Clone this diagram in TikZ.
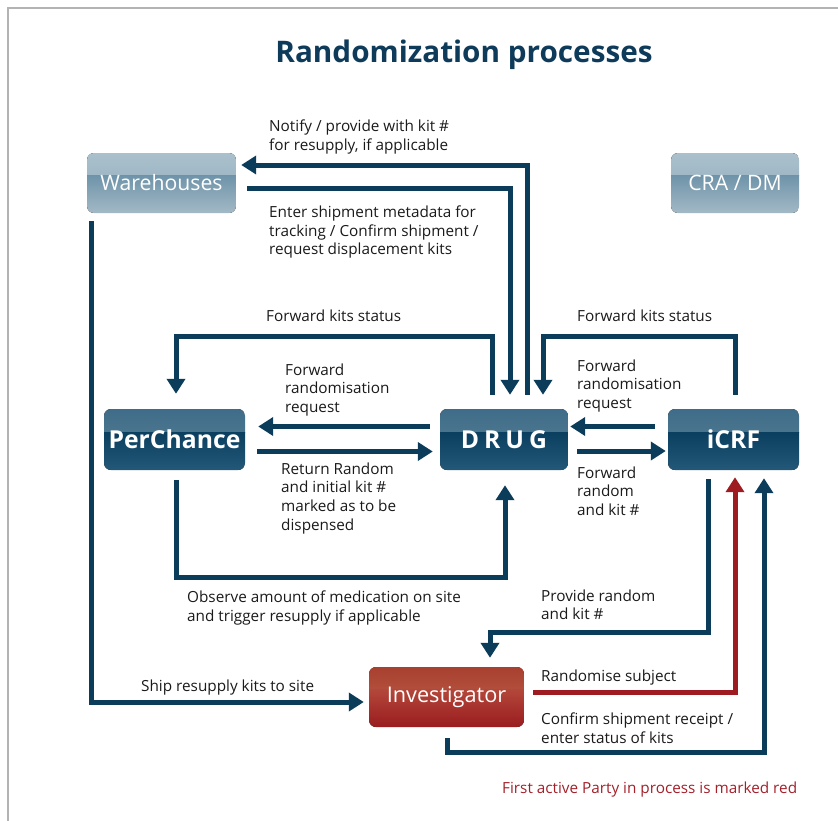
\documentclass[tikz,border=0pt]{standalone}
\usepackage{fontspec}
\setmainfont{Open Sans}
\usetikzlibrary{arrows.meta,calc}
\definecolor{navy}{HTML}{0B3C5A}
\definecolor{titleblue}{HTML}{0E3B5A}
\definecolor{redarr}{HTML}{9E1B22}
\definecolor{redtext}{HTML}{A3202A}
\definecolor{framegray}{HTML}{B3B3B3}
\definecolor{txt}{HTML}{1A1A1A}
\definecolor{dA}{HTML}{3F6C88}
\definecolor{dB}{HTML}{5C8399}
\definecolor{dC}{HTML}{0B3F60}
\definecolor{dD}{HTML}{245878}
\definecolor{lA}{HTML}{AAC0CC}
\definecolor{lB}{HTML}{8FABBD}
\definecolor{lC}{HTML}{6F93A9}
\definecolor{lD}{HTML}{A3B9C6}
\definecolor{rA}{HTML}{A9402F}
\definecolor{rB}{HTML}{C06650}
\definecolor{rC}{HTML}{B3473A}
\definecolor{rD}{HTML}{9A1C1F}
\tikzset{
  glossy/.style n args={4}{rounded corners=7pt, inner sep=0pt, text=white,
    path picture={
      \fill[sharp corners, top color=#1, bottom color=#2] (path picture bounding box.north west) rectangle ($(path picture bounding box.east)+(0,-7.5)$);
      \fill[sharp corners, top color=#3, bottom color=#4] ($(path picture bounding box.west)+(0,-7.5)$) rectangle (path picture bounding box.south east);
    }},
  darkbox/.style={glossy={dA}{dB}{dC}{dD}, minimum height=61pt,
    font=\fontsize{24.7}{28}\selectfont\bfseries},
  lightbox/.style={glossy={lA}{lB}{lC}{lD}, minimum height=60pt,
    font=\fontsize{21.2}{24}\selectfont},
  redbox/.style={glossy={rA}{rB}{rC}{rD}, minimum height=60pt,
    font=\fontsize{21.7}{25}\selectfont},
  arr/.style={draw=navy, line width=5pt, -{Triangle[width=18pt,length=15pt]}},
  redarrow/.style={draw=redarr, line width=5pt, -{Triangle[width=18pt,length=15pt]}},
  lbl/.style={anchor=north west, inner sep=0pt, align=left, text=txt,
    font=\fontsize{15.3}{18.6}\selectfont},
}
\begin{document}
\begin{tikzpicture}[x=1pt,y=-1pt]
\useasboundingbox (0,0) rectangle (838,820);
\draw[framegray, line width=2pt] (8,821) -- (8,8) -- (839,8);

\node[anchor=base, text=titleblue, font=\fontsize{29.7}{34}\selectfont\bfseries] (title) at (464,62) {Randomization processes};

% boxes
\node[lightbox, minimum width=149pt] (wh) at (161.5,183) {Warehouses};
\node[lightbox, minimum width=128pt] (cra) at (735,183) {CRA / DM};
\node[darkbox, minimum width=141pt] (pc) at (174.5,439.5) {PerChance};
\node[darkbox, minimum width=128pt] (drug) at (504,439.5) {D\hspace{5pt}R\hspace{5pt}U\hspace{5pt}G};
\node[darkbox, minimum width=131pt] (icrf) at (733.5,439.5) {iCRF};
\node[redbox, minimum width=155pt] (inv) at (446.5,697) {Investigator};

% connectors
\draw[arr] ($(drug.north)+(23,-14)$) |- ($(wh.east)+(5,-18)$);
\draw[arr] ($(wh.east)+(11,5)$) -| ($(drug.north)+(6,-14)$);
\draw[arr] ($(drug.north)+(-12,-14)$) -- ($(drug.north)+(-12,-72)$) -| ($(pc.north)+(1.5,-15)$);
\draw[arr] ($(icrf.north)+(1.5,-14)$) -- ($(icrf.north)+(1.5,-72)$) -| ($(drug.north)+(39,-14)$);
\draw[arr] ($(drug.west)+(-10,-13)$) -- ($(pc.east)+(13,-13)$);
\draw[arr] ($(pc.east)+(12,12)$) -- ($(drug.west)+(-7,12)$);
\draw[arr] ($(icrf.west)+(-13,-13)$) -- ($(drug.east)+(2,-13)$);
\draw[arr] ($(drug.east)+(9,11.5)$) -- ($(icrf.west)+(-2,11.5)$);
\draw[arr] ($(pc.south)+(1.5,10)$) -- ($(pc.south)+(1.5,107)$) -| ($(drug.south)+(1,15)$);
\draw[arr] ($(icrf.south)+(-25.5,9)$) -- ($(icrf.south)+(-25.5,162)$) -| ($(inv.north)+(43.5,-9)$);
\draw[redarrow] ($(inv.east)+(9,-5)$) -| ($(icrf.south)+(1.5,7)$);
\draw[arr] ($(inv.south)+(0.5,11)$) -- ($(inv.south)+(0.5,25)$) -| ($(icrf.south)+(30.5,8)$);
\draw[arr] ($(wh.south)+(-70.5,8)$) |- ($(inv.west)+(-5,5)$);

% labels
\node[lbl] (l1) at (269,120) {Notify / provide with kit \#\\for resupply, if applicable};
\node[lbl] (l2) at (269,205.5) {Enter shipment metadata for\\tracking / Confirm shipment /\\request displacement kits};
\node[lbl] (l3) at (266,309.5) {Forward kits status};
\node[lbl] (l4) at (577,309.5) {Forward kits status};
\node[lbl] (l5) at (285,363.5) {Forward\\randomisation\\request};
\node[lbl] (l6) at (577,359.5) {Forward\\randomisation\\request};
\node[lbl] (l7) at (281,462.5) {Return Random\\and initial kit \#\\marked as to be\\dispensed};
\node[lbl] (l8) at (577,466.5) {Forward\\random\\and kit \#};
\node[lbl] (l9) at (187,590.5) {Observe amount of medication on site\\and trigger resupply if applicable};
\node[lbl] (l10) at (541,589.5) {Provide random\\and kit \#};
\node[lbl] (l11) at (141,679.5) {Ship resupply kits to site};
\node[lbl] (l12) at (541,669.5) {Randomise subject};
\node[lbl] (l13) at (541,712.5) {Confirm shipment receipt /\\enter status of kits};
\node[lbl, text=redtext] (l14) at (502,781.5) {First active Party in process is marked red};
\end{tikzpicture}
\end{document}
